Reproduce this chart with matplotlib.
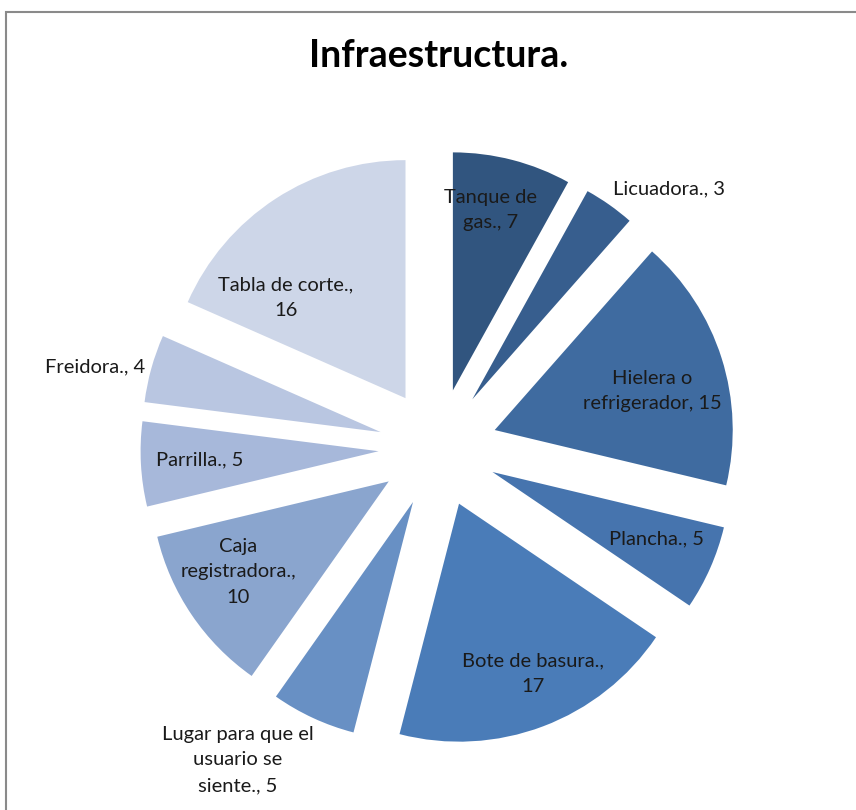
import numpy as np
import matplotlib.pyplot as plt
from matplotlib.patches import Rectangle

plt.rcParams['font.family'] = ['Lato', 'DejaVu Sans']

labels = ['Tanque de gas.', 'Licuadora.', 'Hielera o refrigerador', 'Plancha.',
          'Bote de basura.', 'Lugar para que el usuario se siente.',
          'Caja registradora.', 'Parrilla.', 'Freidora.', 'Tabla de corte.']
values = [7, 3, 15, 5, 17, 5, 10, 5, 4, 16]
colors = ['#31557F', '#375E8E', '#3F6BA0', '#4674AE', '#4A7CB8',
          '#6890C4', '#8AA5CE', '#A7B8DA', '#B9C6E1', '#CDD6E8']

# label text as shown on the slices (manual line breaks)
label_text = ['Tanque de\ngas., 7', 'Licuadora., 3', 'Hielera o\nrefrigerador, 15',
              'Plancha., 5', 'Bote de basura.,\n17', 'Lugar para que el\nusuario se\nsiente., 5',
              'Caja\nregistradora.,\n10', 'Parrilla., 5', 'Freidora., 4', 'Tabla de corte.,\n16']
# label centres, in pie radii from the centre (dx, dy)
label_pos = [(0.22, 1.00), (0.97, 1.09), (0.90, 0.24), (0.92, -0.38), (0.40, -0.95),
             (-0.84, -1.31), (-0.84, -0.52), (-1.00, -0.05), (-1.44, 0.34), (-0.64, 0.63)]

W, H = 856, 810
cx, cy, R = 438, 448, 238   # pie centre / radius in pixels

fig = plt.figure(figsize=(W / 100, H / 100), dpi=100)
ax = fig.add_axes([0, 0, 1, 1])

ax.pie(values, colors=colors, startangle=90, counterclock=False,
       explode=[0.25] * len(values), radius=1.0,
       wedgeprops=dict(linewidth=0))

for txt, (dx, dy) in zip(label_text, label_pos):
    ax.text(dx, dy, txt, ha='center', va='center', fontsize=14.5,
            color='#1a1a1a', linespacing=1.62)

ax.set_xlim(-cx / R, (W - cx) / R)
ax.set_ylim(-(H - cy) / R, cy / R)
ax.set_aspect('auto')
ax.axis('off')

# chart-area frame
fig.patches.append(Rectangle((6 / W, -0.1), 1.2, 1 - 12 / H + 0.1,
                             transform=fig.transFigure, fill=False,
                             edgecolor='#8a8a8a', linewidth=1.5))

fig.text(439 / W, 1 - 56 / H, 'Infraestructura.', ha='center', va='center',
         fontsize=27, fontweight='bold')

fig.savefig('out.png', dpi=100)
